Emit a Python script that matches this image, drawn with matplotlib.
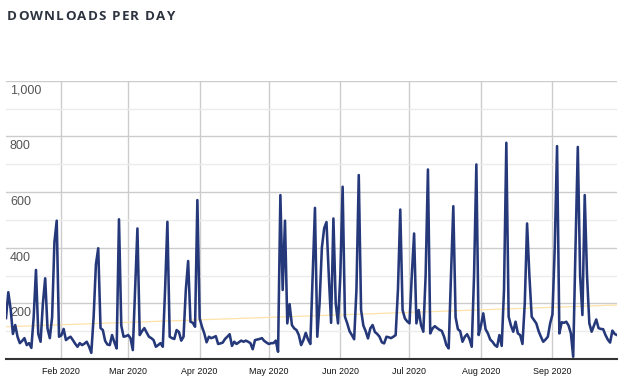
import numpy as np
import pandas as pd
import matplotlib
matplotlib.use("Agg")
import matplotlib.pyplot as plt
import matplotlib.dates as mdates
import matplotlib.transforms as mtransforms

# daily downloads, 2020-01-08 .. 2020-09-29
start_date = "2020-01-08"
downloads = [
    147, 240, 180, 90, 122, 80, 57, 65, 75, 50,
    57, 40, 150, 320, 90, 62, 200, 290, 110, 75,
    150, 420, 497, 80, 85, 108, 68, 75, 80, 68,
    55, 44, 57, 50, 55, 62, 45, 22, 150, 340,
    398, 111, 104, 65, 52, 50, 86, 60, 38, 502,
    120, 80, 82, 86, 75, 32, 250, 469, 86, 100,
    111, 95, 80, 75, 68, 44, 50, 57, 44, 250,
    493, 80, 75, 72, 104, 97, 66, 80, 250, 352,
    134, 130, 116, 571, 146, 116, 92, 60, 80, 75,
    78, 82, 54, 56, 59, 72, 80, 89, 47, 62,
    54, 60, 66, 62, 66, 62, 57, 35, 68, 70,
    72, 75, 65, 59, 54, 57, 57, 66, 26, 589,
    248, 497, 128, 197, 122, 110, 104, 86, 50, 68,
    94, 70, 54, 300, 543, 80, 200, 400, 470, 492,
    300, 130, 505, 200, 128, 300, 619, 152, 128, 100,
    86, 71, 250, 661, 176, 120, 100, 74, 110, 122,
    97, 90, 80, 60, 56, 80, 78, 75, 80, 86,
    250, 537, 176, 146, 135, 128, 300, 451, 128, 176,
    122, 98, 300, 681, 92, 110, 118, 111, 105, 101,
    80, 50, 38, 300, 549, 150, 107, 100, 62, 80,
    89, 72, 44, 300, 699, 86, 120, 164, 107, 92,
    70, 62, 50, 44, 86, 47, 250, 777, 152, 120,
    98, 134, 92, 86, 54, 200, 487, 300, 152, 140,
    128, 100, 80, 62, 70, 80, 128, 160, 400, 765,
    92, 132, 130, 134, 120, 92, 8, 400, 762, 300,
    158, 589, 300, 128, 98, 120, 142, 111, 108, 107,
    86, 70, 59, 102, 90, 86,
]
trend_ends = [116, 194]
y_major = [0, 200, 400, 600, 800, 1000]
y_labels = ["", "200", "400", "600", "800", "1,000"]

dates = pd.date_range(start_date, periods=len(downloads), freq="D")

plt.rcParams["font.family"] = ["Liberation Sans", "DejaVu Sans"]

fig = plt.figure(figsize=(6.25, 3.92), dpi=100)
ax = fig.add_axes([6 / 625, 1 - 359 / 392, 611 / 625, (359 - 80.7) / 392])

ax.set_ylim(0, 1000)
ax.set_xlim(dates[0], dates[-1])

# grid
ax.set_yticks(y_major)
ax.set_yticks(np.arange(100, 1000, 200), minor=True)
ax.grid(axis="y", which="major", color="#cccccc", linewidth=1.0)
ax.grid(axis="y", which="minor", color="#ebebeb", linewidth=1.0)
ax.xaxis.set_major_locator(mdates.MonthLocator())
ax.xaxis.set_major_formatter(mdates.DateFormatter("%b %Y"))
ax.grid(axis="x", which="major", color="#cccccc", linewidth=1.0)
ax.set_axisbelow(True)

for s in ["top", "left", "right"]:
    ax.spines[s].set_visible(False)
ax.spines["bottom"].set_color("#333333")
ax.spines["bottom"].set_linewidth(1.5)

ax.tick_params(axis="y", which="both", length=0, labelleft=False)
ax.tick_params(axis="x", length=0, labelsize=6.4, labelcolor="#111111", pad=6)

# y labels sit inside the plot, just below each grid line
trans = mtransforms.blended_transform_factory(ax.transAxes, ax.transData)
for v, lab in zip(y_major, y_labels):
    if lab:
        ax.text(4 / 611, v - 36, lab, transform=trans, fontsize=9,
                color="#555555", ha="left", va="center")

# trend line
ax.plot([dates[0], dates[-1]], trend_ends, color="#fde3a7", linewidth=0.9, zorder=2)

ax.plot(dates, downloads, color="#25387a", linewidth=1.85, zorder=3,
        solid_joinstyle="round")

# title with letter spacing
title = "DOWNLOADS PER DAY"
renderer = fig.canvas.get_renderer()
x = 7
for ch in title:
    t = fig.text(x / 625, 1 - 17 / 392, ch, fontsize=9.6, fontweight="bold",
                 family=["Open Sans", "DejaVu Sans"], color="#2d3440",
                 ha="left", va="center")
    w = t.get_window_extent(renderer).width
    if ch == " ":
        w = 3.5
    x += w + 1.2

fig.savefig("out.png", dpi=100)
